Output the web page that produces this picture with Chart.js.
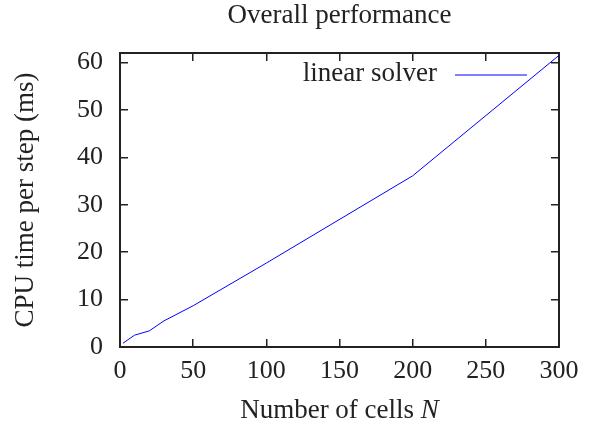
<!DOCTYPE html>
<html>
<head>
<meta charset="utf-8">
<script src="https://cdn.jsdelivr.net/npm/chart.js@4.4.1/dist/chart.umd.min.js"></script>
<style>
  html, body { margin: 0; padding: 0; background: #fff; }
  #chart { display: block; }
</style>
</head>
<body>
<canvas id="chart" width="598" height="432"></canvas>
<script>
        const cellCounts = [2, 10, 20, 30, 50, 100, 200, 300];
        const cpuTimes = [0.8, 2.5, 3.4, 5.5, 8.7, 17.7, 36.1, 61.5];
        const xTickValues = [0, 50, 100, 150, 200, 250, 300];
        const yTickValues = [0, 10, 20, 30, 40, 50, 60];

        const ink = '#222';
        const serif = "'Liberation Serif', 'Times New Roman', serif";
        const textFont = { family: serif, size: 27, lineHeight: 1.2 };
        const tickFont = { family: serif, size: 26, lineHeight: 1.2 };

        // gnuplot style: inward tick marks on all four sides
        const frameGrid = { drawOnChartArea: false, tickLength: -8, color: ink, lineWidth: 1.5 };
        const frameBorder = { display: true, color: ink, width: 2 };

        const setTicks = values => scale => {
            scale.ticks = values.map(v => ({ value: v }));
        };

        // legend sample to the right of the text, like gnuplot's key
        const legendLine = {
            id: 'legendLine',
            afterDatasetsDraw(chart) {
                const { ctx, chartArea } = chart;
                const ds = chart.data.datasets[0];
                const y = chartArea.top + 22;
                const x2 = chartArea.right - 32;
                const x1 = x2 - 72;
                ctx.save();
                ctx.strokeStyle = ds.borderColor;
                ctx.lineWidth = ds.borderWidth;
                ctx.beginPath();
                ctx.moveTo(x1, y);
                ctx.lineTo(x2, y);
                ctx.stroke();
                ctx.font = textFont.size + 'px ' + serif;
                ctx.fillStyle = ink;
                ctx.textAlign = 'right';
                ctx.textBaseline = 'middle';
                ctx.fillText(ds.label, x1 - 18, y - 1);
                ctx.restore();
            }
        };

        // x axis title with an italic N
        const xTitle = {
            id: 'xTitle',
            afterDraw(chart) {
                const { ctx, chartArea } = chart;
                const plain = 'Number of cells ';
                const italic = 'N';
                ctx.save();
                ctx.fillStyle = ink;
                ctx.textBaseline = 'middle';
                ctx.textAlign = 'left';
                const upright = textFont.size + 'px ' + serif;
                const slanted = 'italic ' + textFont.size + 'px ' + serif;
                ctx.font = upright;
                const w1 = ctx.measureText(plain).width;
                ctx.font = slanted;
                const w2 = ctx.measureText(italic).width;
                const x0 = (chartArea.left + chartArea.right) / 2 - (w1 + w2) / 2;
                const y = chart.scales.x.bottom - 21;
                ctx.font = upright;
                ctx.fillText(plain, x0, y);
                ctx.font = slanted;
                ctx.fillText(italic, x0 + w1, y);
                ctx.restore();
            }
        };

        const ctx = document.getElementById('chart').getContext('2d');

        new Chart(ctx, {
            type: 'line',
            data: {
                datasets: [{
                    label: 'linear solver',
                    data: cellCounts.map((n, i) => ({ x: n, y: cpuTimes[i] })),
                    borderColor: '#0000ff',
                    borderWidth: 1,
                    pointRadius: 0,
                    tension: 0,
                    fill: false
                }]
            },
            options: {
                responsive: false,
                animation: false,
                layout: { padding: 0 },
                plugins: {
                    legend: { display: false },
                    title: { display: false },
                    tooltip: { enabled: false }
                },
                scales: {
                    x: {
                        type: 'linear',
                        position: 'bottom',
                        min: 0,
                        max: 300,
                        afterBuildTicks: setTicks(xTickValues),
                        afterFit: s => { s.height = 85; },
                        grid: frameGrid,
                        border: frameBorder,
                        ticks: { font: tickFont, color: ink, padding: 17, maxRotation: 0 },
                        title: { display: false }
                    },
                    xTop: {
                        type: 'linear',
                        position: 'top',
                        min: 0,
                        max: 300,
                        afterBuildTicks: setTicks(xTickValues),
                        afterFit: s => { s.height = 53; },
                        grid: frameGrid,
                        border: frameBorder,
                        ticks: { display: false },
                        title: {
                            display: true,
                            text: 'Overall performance',
                            font: textFont,
                            color: ink,
                            padding: { top: 0, bottom: 0 }
                        }
                    },
                    y: {
                        type: 'linear',
                        position: 'left',
                        min: 0,
                        max: 62,
                        afterBuildTicks: setTicks(yTickValues),
                        afterFit: s => { s.width = 120; },
                        grid: frameGrid,
                        border: frameBorder,
                        ticks: { font: tickFont, color: ink, padding: 25 },
                        title: {
                            display: true,
                            text: 'CPU time per step (ms)',
                            font: textFont,
                            color: ink,
                            padding: { top: 10, bottom: 0 }
                        }
                    },
                    yRight: {
                        type: 'linear',
                        position: 'right',
                        min: 0,
                        max: 62,
                        afterBuildTicks: setTicks(yTickValues),
                        afterFit: s => { s.width = 39; },
                        grid: frameGrid,
                        border: frameBorder,
                        ticks: { display: false }
                    }
                }
            },
            plugins: [legendLine, xTitle]
        });
</script>
</body>
</html>
